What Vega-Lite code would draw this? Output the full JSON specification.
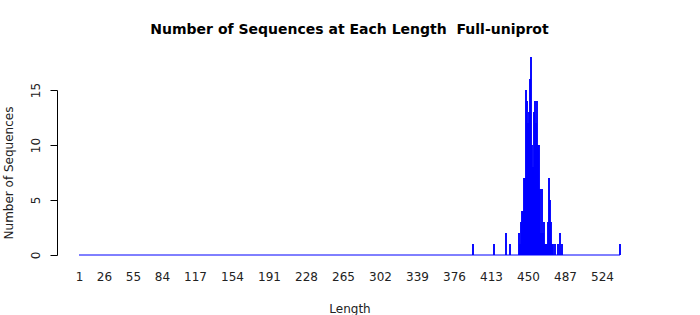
{
  "$schema": "https://vega.github.io/schema/vega-lite/v6.json",
  "width": 585,
  "height": 165,
  "autosize": {"type": "none"},
  "padding": {"left": 57, "top": 90, "right": 58, "bottom": 60},
  "background": "white",
  "config": {
    "view": {"stroke": null},
    "font": "DejaVu Sans",
    "axis": {"labelOverlap": false, "grid": false, "labelFontSize": 12, "labelColor": "#222", "labelFont": "DejaVu Sans", "titleFontSize": 12, "titleFontWeight": "normal", "titleColor": "#222", "titleFont": "DejaVu Sans"},
    "axisX": {"domain": false, "ticks": false, "labelPadding": 16, "titlePadding": 21},
    "axisY": {"domainColor": "black", "tickColor": "black", "tickSize": 7, "labelAngle": -90, "labelAlign": "center", "labelBaseline": "bottom", "labelPadding": 8, "titlePadding": 14}
  },
  "title": {
    "text": "Number of Sequences at Each Length \u00a0Full-uniprot",
    "font": "DejaVu Sans",
    "fontSize": 14,
    "fontWeight": "bold",
    "color": "black",
    "anchor": "middle",
    "offset": 20
  },
  "layer": [
    {
      "data": {"values": [
        {"length": 395, "count": 1},
        {"length": 416, "count": 1},
        {"length": 428, "count": 2},
        {"length": 432, "count": 1},
        {"length": 441, "count": 2},
        {"length": 442, "count": 1},
        {"length": 443, "count": 3},
        {"length": 444, "count": 4},
        {"length": 445, "count": 4},
        {"length": 446, "count": 7},
        {"length": 447, "count": 7},
        {"length": 448, "count": 15},
        {"length": 449, "count": 14},
        {"length": 450, "count": 12},
        {"length": 451, "count": 13},
        {"length": 452, "count": 16},
        {"length": 453, "count": 18},
        {"length": 454, "count": 10},
        {"length": 455, "count": 8},
        {"length": 456, "count": 13},
        {"length": 457, "count": 14},
        {"length": 458, "count": 12},
        {"length": 459, "count": 14},
        {"length": 460, "count": 10},
        {"length": 461, "count": 10},
        {"length": 462, "count": 6},
        {"length": 463, "count": 2},
        {"length": 464, "count": 6},
        {"length": 465, "count": 2},
        {"length": 466, "count": 3},
        {"length": 467, "count": 1},
        {"length": 468, "count": 1},
        {"length": 469, "count": 1},
        {"length": 470, "count": 3},
        {"length": 471, "count": 7},
        {"length": 472, "count": 5},
        {"length": 473, "count": 3},
        {"length": 474, "count": 1},
        {"length": 475, "count": 1},
        {"length": 477, "count": 1},
        {"length": 480, "count": 1},
        {"length": 482, "count": 2},
        {"length": 484, "count": 1},
        {"length": 542, "count": 1}
      ]},
      "mark": {"type": "bar", "color": "#0000FF", "size": 1.9, "clip": false},
      "encoding": {
        "x": {
          "field": "length", "type": "quantitative",
          "scale": {"domain": [-21, 564], "nice": false, "zero": false, "padding": 0},
          "axis": {
            "title": "Length",
            "values": [1, 26, 55, 84, 117, 154, 191, 228, 265, 302, 339, 376, 413, 450, 487, 524],
            "tickCount": 40,
            "labelOverlap": false
          }
        },
        "y": {
          "field": "count", "type": "quantitative",
          "scale": {"domain": [0, 15], "nice": false},
          "axis": {
            "title": "Number of Sequences",
            "values": [0, 5, 10, 15],
            "tickCount": 10
          }
        }
      }
    },
    {
      "data": {"values": [{"from": 1, "to": 542, "base": 0}]},
      "mark": {"type": "rule", "color": "#0000FF", "strokeWidth": 1},
      "encoding": {
        "x": {"field": "from", "type": "quantitative"},
        "x2": {"field": "to"},
        "y": {"field": "base", "type": "quantitative"}
      }
    }
  ]
}
